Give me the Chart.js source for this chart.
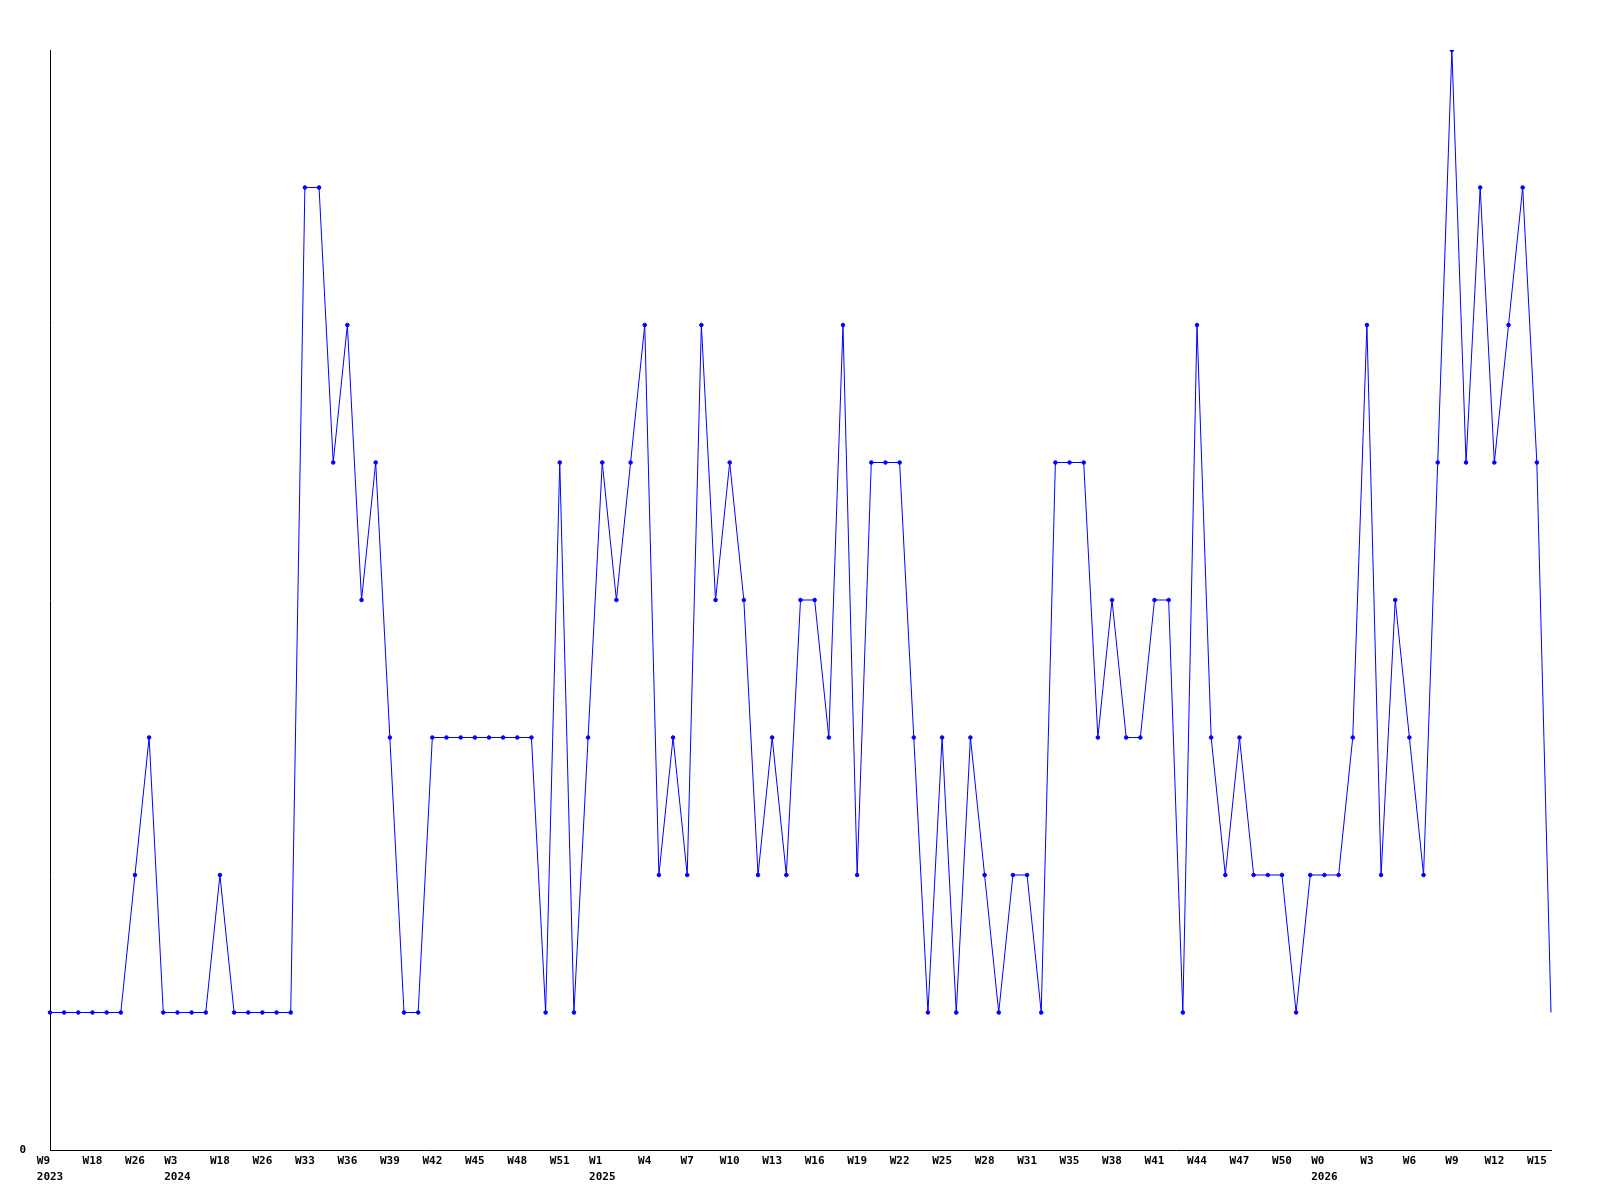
<!DOCTYPE html>
<html lang="en">
<head>
  <meta charset="UTF-8">
  <title>Weekly count</title>
  <script src="https://cdn.jsdelivr.net/npm/chart.js"></script>
  <style>
    body {
      margin: 0;
      background: #ffffff;
    }
    #chart-box {
      width: 1600px;
      height: 1200px;
    }
  </style>
</head>
<body>
  <div id="chart-box">
    <canvas id="week-chart" width="1600" height="1200"></canvas>
  </div>

  <script>
    // Week labels, one for every third point
    const weekLabels = [
      'W9', 'W18', 'W26', 'W3', 'W18', 'W26', 'W33', 'W36', 'W39', 'W42', 'W45', 'W48',
      'W51', 'W1', 'W4', 'W7', 'W10', 'W13', 'W16', 'W19', 'W22', 'W25', 'W28', 'W31',
      'W35', 'W38', 'W41', 'W44', 'W47', 'W50', 'W0', 'W3', 'W6', 'W9', 'W12', 'W15'
    ];
    // Second line under some of the week labels (same order as weekLabels)
    const yearLabels = [
      '2023', '', '', '2024', '', '', '', '', '', '', '', '',
      '', '2025', '', '', '', '', '', '', '', '', '', '',
      '', '', '', '', '', '', '2026', '', '', '', '', ''
    ];
    // Values, one per point
    const counts = [
      1, 1, 1, 1, 1, 1, 2, 3, 1, 1, 1, 1, 2, 1, 1, 1, 1, 1,
      7, 7, 5, 6, 4, 5, 3, 1, 1, 3, 3, 3, 3, 3, 3, 3, 3, 1,
      5, 1, 3, 5, 4, 5, 6, 2, 3, 2, 6, 4, 5, 4, 2, 3, 2, 4,
      4, 3, 6, 2, 5, 5, 5, 3, 1, 3, 1, 3, 2, 1, 2, 2, 1, 5,
      5, 5, 3, 4, 3, 3, 4, 4, 1, 6, 3, 2, 3, 2, 2, 2, 1, 2,
      2, 2, 3, 6, 2, 4, 3, 2, 5, 8, 5, 7, 5, 6, 7, 5, 1
    ];

    // Build category labels: every third point gets a week label.
    // Week text is padded so both lines start at the same x (monospace font).
    const categories = counts.map((v, i) => {
      if (i % 3 !== 0) return '';
      const k = i / 3;
      if (k >= weekLabels.length) return '';
      const year = yearLabels[k];
      return year ? [weekLabels[k].padEnd(year.length, ' '), year] : weekLabels[k];
    });

    const tickFont = {
      family: "'DejaVu Sans Mono', monospace",
      size: 11,
      weight: 'bold',
      lineHeight: 1.45
    };

    const ctx = document.getElementById('week-chart').getContext('2d');
    const weekChart = new Chart(ctx, {
      type: 'line',
      data: {
        labels: categories,
        datasets: [{
          data: counts,
          borderColor: '#0000ff',
          borderWidth: 1,
          backgroundColor: '#0000ff',
          pointBackgroundColor: '#0000ff',
          pointBorderColor: '#0000ff',
          pointBorderWidth: 1,
          pointRadius: (c) => c.dataIndex === counts.length - 1 ? 0 : 1.8,
          pointStyle: 'circle',
          tension: 0,
          fill: false
        }]
      },
      options: {
        responsive: false,
        animation: false,
        layout: {
          padding: { top: 50, right: 49, bottom: 0, left: 0 }
        },
        plugins: {
          legend: { display: false },
          tooltip: { enabled: false }
        },
        scales: {
          x: {
            offset: false,
            grid: { display: false, drawTicks: false },
            border: { display: true, color: '#000000', width: 1 },
            ticks: {
              autoSkip: false,
              maxRotation: 0,
              minRotation: 0,
              padding: 3,
              color: '#000000',
              font: tickFont
            },
            afterFit: (scale) => { scale.height = 50; }
          },
          y: {
            min: 0,
            max: 8,
            grid: { display: false, drawTicks: false },
            border: { display: true, color: '#000000', width: 1 },
            ticks: {
              stepSize: 1,
              padding: 24,
              color: '#000000',
              font: tickFont,
              callback: (v) => v === 0 ? '0' : ''
            },
            afterFit: (scale) => { scale.width = 50; }
          }
        }
      }
    });
  </script>
</body>
</html>
